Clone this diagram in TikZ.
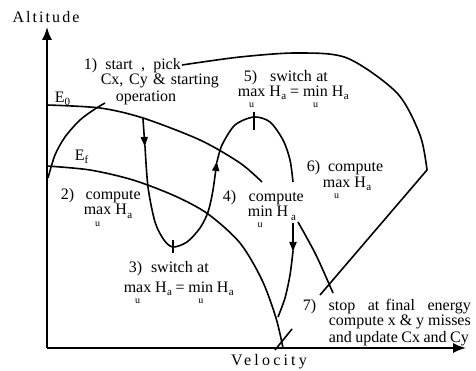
\documentclass[tikz,border=0pt]{standalone}
\usepackage{fontspec}
\setmainfont{Liberation Serif}
\newfontfamily\axfontA[LetterSpace=13]{Liberation Serif}
\newfontfamily\axfontV[LetterSpace=20]{Liberation Serif}
\usetikzlibrary{arrows.meta}
\newcommand\opu[1]{\ooalign{#1\cr\hfil\raisebox{-11pt}{\fontsize{10}{10}\selectfont u}\hfil\cr}}
\newcommand\Ha{H\kern0.5pt\raisebox{-3pt}{\fontsize{11}{11}\selectfont a}}
\newcommand\Hlow{H\kern3pt\raisebox{-4pt}{\fontsize{11}{11}\selectfont a}}
\begin{document}
\begin{tikzpicture}[x=1pt,y=-1pt,line width=1.6pt,line join=round,
  lbl/.style={anchor=base west,inner sep=0pt,font=\fontsize{16}{18}\selectfont},
  axtip/.style={-{Latex[length=13pt,width=10pt]}},
  flowtip/.style={-{Latex[length=11pt,width=8pt]}},
  tick/.style={line width=1.4pt}]
\useasboundingbox (0,0) rectangle (476,371);
% axes
\coordinate (O) at (47,348);
\coordinate (Ytop) at (47,27);
\coordinate (Xend) at (466,348);
\draw[axtip] (O) -- (Ytop);
\draw[axtip] (O) -- (Xend);
\node[inner sep=0pt,font=\fontsize{16}{18}\selectfont\axfontA] (alt) at (46,17) {Altitude};
\node[inner sep=0pt,font=\fontsize{16}{18}\selectfont\axfontV] (vel) at (269,362) {Velocity};
% energy curves
\draw plot[smooth] coordinates {(47,105) (100,108) (143,118) (200,140) (240,163) (262,182)};
\draw plot[smooth] coordinates {(298,222) (316,255) (333,293)};
\draw plot[smooth] coordinates {(47,166) (90,170) (133,180) (175,196) (208,214) (240,243) (262,280) (276,318) (283,348)};
\node[lbl] (E0) at (54,103) {E\raisebox{-3pt}{\fontsize{11}{11}\selectfont 0}};
\node[lbl] (Ef) at (74,161) {E\raisebox{-3pt}{\fontsize{11}{11}\selectfont f}};
% start arc
\draw plot[smooth] coordinates {(48,178) (55,155) (65,137) (80,120) (95,109) (105,103)};
% trajectory
\draw[flowtip] (143,119) -- (145,148);
\draw[flowtip] plot[smooth] coordinates {(145,146) (148,187) (155,222) (164,240) (173,247) (187,242) (200,228) (208,212) (213,190) (217,160)};
\draw plot[smooth] coordinates {(217,162) (222,145) (235,125) (254,117) (270,122) (283,140) (290,160) (293,182)};
\draw[tick] (173,240) -- (173,253);
\draw[tick] (254,112) -- (254,130);
\draw[flowtip] (293,223) -- (293,253);
\draw plot[smooth] coordinates {(293,251) (290,275) (285,298) (278,317)};
% outer return loop
\draw plot[smooth] coordinates {(182,65) (240,57) (297,53) (347,58) (397,93) (420,135) (427,170)} -- (320,295);
% slash at final energy
\draw (275,350) -- (292,329);
% labels
\node[lbl] (l1a) at (83,70) {\makebox[97pt][s]{1)\ \ start\ \ ,\ \ pick}};
\node[lbl] (l1b) at (100,85) {\makebox[118pt][s]{Cx, Cy \& starting}};
\node[lbl] (l1c) at (115,102) {operation};
\node[lbl] (l5a) at (243,82) {\makebox[84pt][s]{5)\ \ \ switch at}};
\node[lbl] (l5b) at (237,97) {\makebox[111pt][s]{\opu{max} \Ha{} = \opu{min} \Ha}};
\node[lbl] (l6a) at (306,172) {\makebox[73pt][s]{6)\ \ \ compute}};
\node[lbl] (l6b) at (322,188) {\opu{max} \Ha};
\node[lbl] (l2a) at (60,200) {\makebox[80pt][s]{2)\ \ \ compute}};
\node[lbl] (l2b) at (83,215) {\opu{max} \Ha};
\node[lbl] (l3a) at (128,272) {\makebox[80pt][s]{3)\ \ switch at}};
\node[lbl] (l3b) at (123,292) {\makebox[110pt][s]{\opu{max} \Ha{} = \opu{min} \Ha}};
\node[lbl] (l4a) at (222,202) {\makebox[81pt][s]{4)\ \ \ compute}};
\node[lbl] (l4b) at (247,217) {\opu{min} \Hlow};
\node[lbl] (l7a) at (302,310) {\makebox[168pt][s]{7)\ \ stop\ \ at\ final\ \ energy}};
\node[lbl] (l7b) at (328,325) {\makebox[142pt][s]{compute x \& y misses}};
\node[lbl] (l7c) at (328,342) {\makebox[140pt][s]{and update Cx and Cy}};
\end{tikzpicture}
\end{document}
